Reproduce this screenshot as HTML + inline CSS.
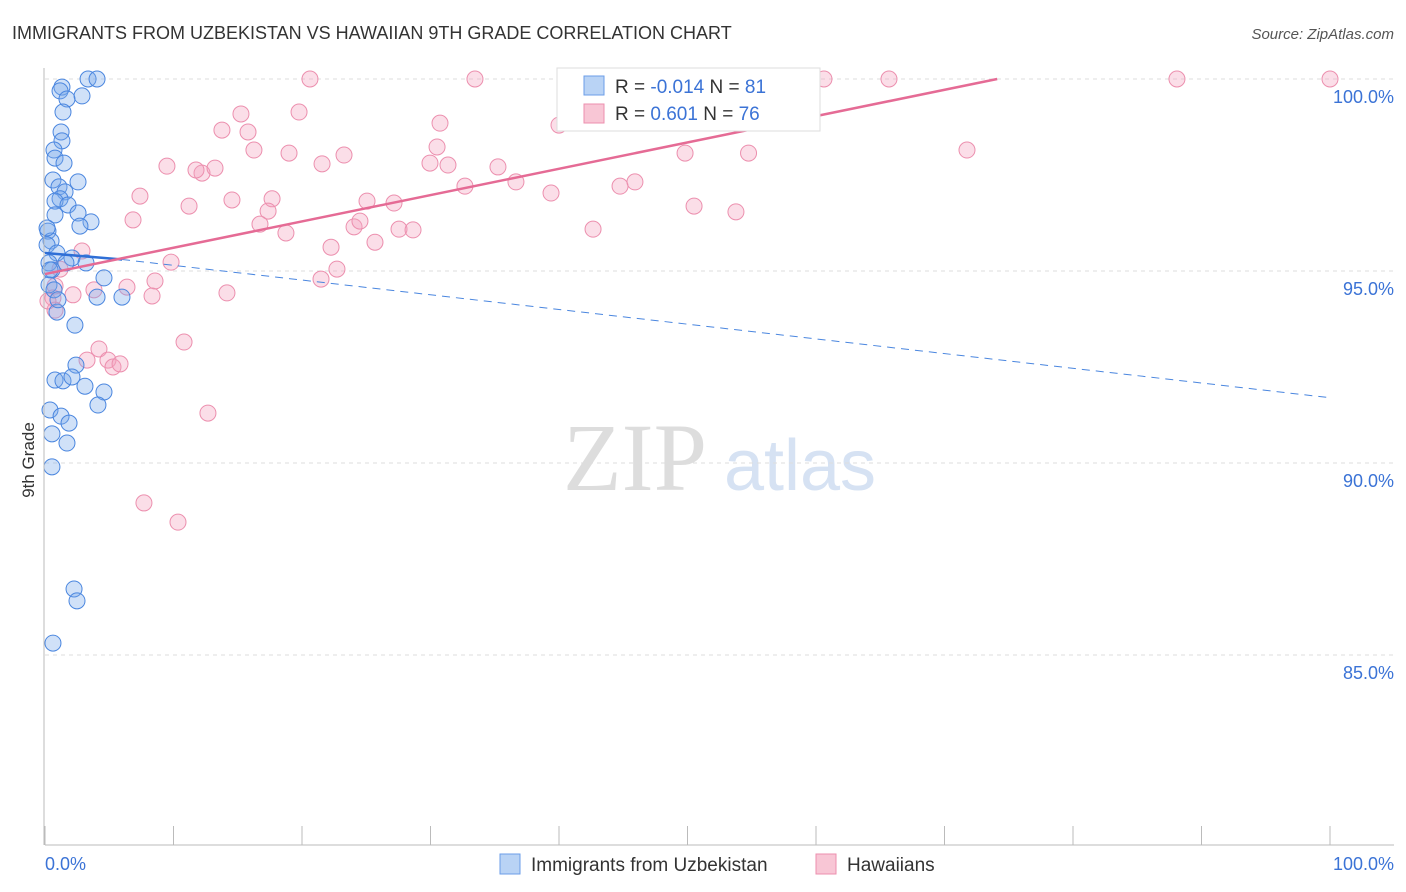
<!DOCTYPE html>
<html><head><meta charset="utf-8"><style>
body{margin:0;background:#fff;font-family:"Liberation Sans",sans-serif;}
</style></head><body>
<svg id="c" width="1406" height="892" style="display:block">
<text x="12" y="39" font-size="18" fill="#333">IMMIGRANTS FROM UZBEKISTAN VS HAWAIIAN 9TH GRADE CORRELATION CHART</text>
<text x="1394" y="39" font-size="15" fill="#555" font-style="italic" text-anchor="end">Source: ZipAtlas.com</text>
<text x="34" y="460" font-size="17" fill="#333" transform="rotate(-90 34 460)" text-anchor="middle">9th Grade</text>
<text x="635" y="490" font-size="96" fill="#ddd" font-family="Liberation Serif" text-anchor="middle">ZIP</text>
<text x="800" y="490" font-size="72" fill="#d6e2f3" text-anchor="middle">atlas</text>
<g id="grid"></g><g id="pts"></g><g id="lines"></g>
<line x1="45" y1="845" x2="1394" y2="845" stroke="#bbb"/>
<line x1="44" y1="68" x2="44" y2="845" stroke="#bbb"/>
<text x="45" y="870" font-size="18" fill="#3b73d6">0.0%</text>
<text x="1394" y="870" font-size="18" fill="#3b73d6" text-anchor="end">100.0%</text>
<g>
<rect x="557" y="68" width="263" height="63" fill="#fff" stroke="#ddd"/>
<rect x="584" y="76" width="20" height="19" fill="#b9d3f5" stroke="#6b9ee8"/>
<rect x="584" y="104" width="20" height="19" fill="#f8c6d5" stroke="#ec8fae"/>
<text x="615" y="93" font-size="19" fill="#333">R = <tspan fill="#3b73d6">-0.014</tspan>   N = <tspan fill="#3b73d6">81</tspan></text>
<text x="615" y="120" font-size="19" fill="#333">R = <tspan fill="#3b73d6">  0.601</tspan>   N = <tspan fill="#3b73d6">76</tspan></text>
</g>
<g>
<rect x="500" y="854" width="20" height="20" fill="#b9d3f5" stroke="#6b9ee8"/>
<text x="531" y="871" font-size="19" fill="#333">Immigrants from Uzbekistan</text>
<rect x="816" y="854" width="20" height="20" fill="#f8c6d5" stroke="#ec8fae"/>
<text x="847" y="871" font-size="19" fill="#333">Hawaiians</text>
</g>
</svg>
<script>
const yTicks=[100,95,90,85];
const yTickLabels=["100.0%","95.0%","90.0%","85.0%"];
const blueX=[3.35,4.05,1.32,1.17,2.88,1.71,1.4,1.25,1.32,0.7,0.78,1.48,2.57,0.62,1.09,1.56,1.17,0.78,1.79,2.57,0.78,3.58,2.72,0.23,0.47,0.16,0.93,2.1,3.19,0.31,1.63,0.54,4.59,0.31,0.7,4.05,5.99,0.93,2.33,2.41,0.78,1.4,2.1,3.11,4.59,4.12,0.39,1.25,1.87,0.54,1.71,0.54,2.26,2.49,0.62,0.16,0.39,1.01];
const blueY=[100,100,99.79,99.69,99.56,99.48,99.14,98.62,98.39,98.15,97.94,97.81,97.32,97.37,97.19,97.06,96.88,96.82,96.72,96.51,96.46,96.28,96.17,96.04,95.78,95.68,95.47,95.34,95.21,95.21,95.21,95.03,94.82,94.64,94.51,94.32,94.32,93.93,93.59,92.55,92.16,92.14,92.24,92,91.85,91.51,91.38,91.22,91.04,90.76,90.52,89.9,86.72,86.41,85.31,96.12,95.03,94.25];
const pinkX=[20.62,33.46,50.19,60.62,65.68,88.09,100,19.77,15.25,13.77,15.8,40,30.74,9.49,12.22,13.23,16.26,18.99,21.56,23.27,29.96,31.36,30.51,35.25,36.65,32.68,39.38,44.75,45.91,49.81,54.75,71.75,7.39,11.21,14.55,17.67,17.36,16.73,18.75,25.06,27.16,6.85,24.05,24.51,22.26,25.68,27.55,28.64,42.65,50.51,53.77,2.88,1.17,9.81,8.56,21.48,22.72,6.38,3.81,8.33,14.16,2.18,0.62,0.78,10.82,4.2,3.27,4.9,5.29,5.84,12.68,7.7,10.35,0.78,0.23,11.75];
const pinkY=[100,100,100,100,100,100,100,99.14,99.09,98.67,98.62,98.8,98.85,97.73,97.55,97.68,98.15,98.07,97.79,98.02,97.81,97.76,98.23,97.71,97.32,97.21,97.03,97.21,97.32,98.07,98.07,98.15,96.95,96.69,96.85,96.88,96.56,96.22,95.99,96.82,96.77,96.33,96.15,96.3,95.62,95.75,96.09,96.07,96.09,96.69,96.54,95.52,95.05,95.23,94.74,94.79,95.05,94.58,94.51,94.35,94.43,94.38,94.3,93.98,93.15,92.97,92.68,92.68,92.5,92.58,91.3,88.96,88.46,94.61,94.22,97.63];
const X0=45,X1=1330,Y100=79,PX_PER_PCT=38.4;
const sx=v=>X0+(X1-X0)*v/100;
const sy=v=>Y100+(100-v)*PX_PER_PCT;
const NS="http://www.w3.org/2000/svg";
function mk(tag,attrs,parent){const e=document.createElementNS(NS,tag);for(const k in attrs)e.setAttribute(k,attrs[k]);parent.appendChild(e);return e;}
const grid=document.getElementById('grid');
yTicks.forEach((t,i)=>{
 const l=mk('line',{x1:45,x2:1394,y1:sy(t),y2:sy(t),stroke:'#ddd','stroke-dasharray':'4,4'},grid);
 
 
 const tx=mk('text',{x:1394,y:sy(t)+24,'font-size':18,fill:'#3b73d6','text-anchor':'end'},grid);
 tx.textContent=yTickLabels[i];
 
 
});
for(let i=0;i<=10;i++){
 const x=sx(i*10);
 const l=mk('line',{x1:x,x2:x,y1:826,y2:845,stroke:'#bbb'},grid);
 
 
}
const pts=document.getElementById('pts');
pinkX.forEach((x,i)=>{
 const c=mk('circle',{cx:sx(x),cy:sy(pinkY[i]),r:8,fill:'rgba(244,160,188,0.35)',stroke:'#ec8fae','stroke-width':1},pts);
 
 
});
blueX.forEach((x,i)=>{
 const c=mk('circle',{cx:sx(x),cy:sy(blueY[i]),r:8,fill:'rgba(120,170,235,0.35)',stroke:'#4a86df','stroke-width':1},pts);
 
 
});
const lines=document.getElementById('lines');
const blueTrend=[95.47,95.3,91.7];
const pinkTrend=[94.92,100];
let l=mk('line',{x1:sx(0),y1:sy(blueTrend[0]),x2:sx(6),y2:sy(blueTrend[1]),stroke:'#2f6fd6','stroke-width':2.5},lines);


l=mk('line',{x1:sx(6),y1:sy(blueTrend[1]),x2:sx(100),y2:sy(blueTrend[2]),stroke:'#4a86df','stroke-width':1,'stroke-dasharray':'8,6'},lines);


l=mk('line',{x1:sx(0),y1:sy(pinkTrend[0]),x2:sx(74.1),y2:sy(pinkTrend[1]),stroke:'#e56b95','stroke-width':2.5},lines);


</script>
</body></html>
